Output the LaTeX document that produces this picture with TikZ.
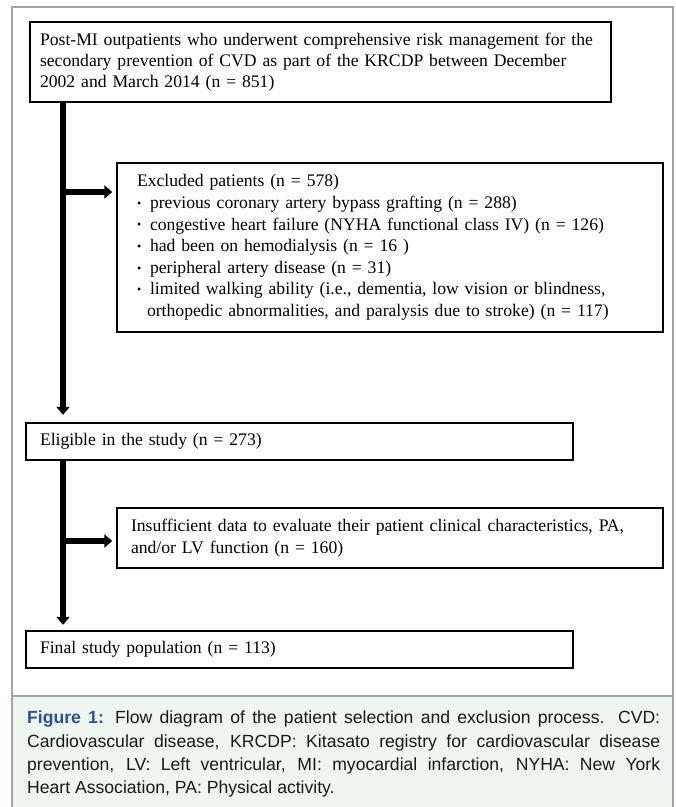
\documentclass[tikz,border=0pt]{standalone}
\usepackage{fontspec}
\setmainfont{Liberation Serif}
\newfontfamily\capfont{Liberation Sans}
\usetikzlibrary{arrows.meta}
\definecolor{framegray}{RGB}{165,165,165}
\definecolor{capbg}{RGB}{239,245,239}
\definecolor{figblue}{RGB}{42,82,152}
\newcommand{\blt}{\makebox[13pt][l]{\raisebox{1.2pt}{\fontsize{12}{12}\selectfont •}}}
\begin{document}
\begin{tikzpicture}[x=1pt,y=-1pt,
  box/.style={draw=black, line width=2.4pt, inner ysep=0pt, align=left,
    font=\fontsize{17.65}{21.6}\selectfont},
  arr/.style={line width=5.5pt, -{Triangle[width=13pt,length=8pt]}},
  frame/.style={draw=framegray, line width=1.3pt}
]
\useasboundingbox (0,0) rectangle (676,807);
% caption background and frame
\fill[capbg] (12,696) rectangle (673,807);
\draw[frame] (12,810) -- (12,7) -- (673,7) -- (673,810);
\draw[frame] (12,696) -- (673,696);

% boxes
\node[box, inner xsep=10pt, text width=561pt, minimum height=80pt,
  font=\fontsize{17.65}{20.8}\selectfont] (top) at (320.5,62)
 {Post-MI outpatients who underwent comprehensive risk management for the\\
  secondary prevention of CVD as part of the KRCDP between December\\
  2002 and March 2014 (n = 851)};

\node[box, inner xsep=20pt, text width=506pt, minimum height=169pt] (excl) at (390,247.5)
 {Excluded patients (n = 578)\\
  \blt previous coronary artery bypass grafting (n = 288)\\
  \blt congestive heart failure (NYHA functional class IV) (n = 126)\\
  \blt had been on hemodialysis (n = 16 )\\
  \blt peripheral artery disease (n = 31)\\
  \blt limited walking ability (i.e., dementia, low vision or blindness,\\
  \hspace*{10pt}orthopedic abnormalities, and paralysis due to stroke) (n = 117)};

\node[box, inner xsep=14pt, text width=519pt, minimum height=37pt] (elig) at (299.5,441.5)
 {Eligible in the study (n = 273)};

\node[box, inner xsep=14pt, text width=518pt, minimum height=60pt] (insuf) at (390,538)
 {Insufficient data to evaluate their patient clinical characteristics, PA,\\
  and/or LV function (n = 160)};

\node[box, inner xsep=14pt, text width=519pt, minimum height=37pt] (final) at (299.5,649.5)
 {Final study population (n = 113)};

% connectors
\coordinate (spine) at (63,0);
\coordinate (b1) at (63,192);
\coordinate (b2) at (63,541);
\draw[arr, shorten >=7pt] (top.south -| spine) -- (elig.north -| spine);
\draw[arr, shorten >=3.5pt] (b1) -- (b1 -| excl.west);
\draw[arr, shorten >=5pt] (elig.south -| spine) -- (final.north -| spine);
\draw[arr, shorten >=3.5pt] (b2) -- (b2 -| insuf.west);

% caption
\node[anchor=north west, inner sep=0pt, text width=633pt, align=justify,
  font=\capfont\fontsize{17.6}{23.2}\selectfont, text=black!90] (cap) at (27,711)
 {\hyphenpenalty=10000\exhyphenpenalty=10000{\bfseries\color{figblue}Figure 1:} Flow diagram of the patient selection and exclusion process. CVD: Cardiovascular disease, KRCDP: Kitasato registry for cardiovascular disease prevention, LV: Left ventricular, MI: myocardial infarction, NYHA: New York\linebreak Heart Association, PA: Physical activity.\par};
\end{tikzpicture}
\end{document}
